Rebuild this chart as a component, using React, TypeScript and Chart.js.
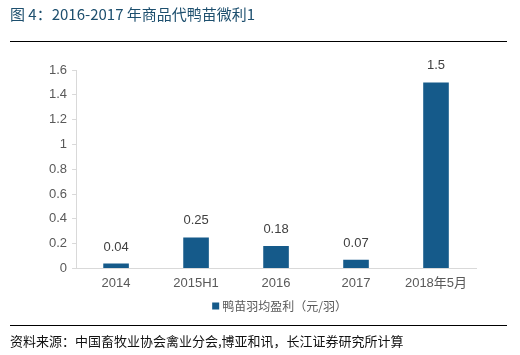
import React, { useEffect, useRef } from "react";
import { Chart, registerables } from "chart.js";

Chart.register(...registerables);

const categories = ["2014", "2015H1", "2016", "2017", "2018年5月"];
const profitValues = [0.04, 0.25, 0.18, 0.07, 1.5];
const valueLabels = ["0.04", "0.25", "0.18", "0.07", "1.5"];
const seriesName = "鸭苗羽均盈利（元/羽）";
const yTicks = [0, 0.2, 0.4, 0.6, 0.8, 1, 1.2, 1.4, 1.6];
const yTickLabels = ["0", "0.2", "0.4", "0.6", "0.8", "1", "1.2", "1.4", "1.6"];
const titleText = "图 4：2016-2017 年商品代鸭苗微利1";
const sourceText = "资料来源：中国畜牧业协会禽业分会,博亚和讯，长江证券研究所计算";

const BAR = "#155a8a";
const FONT = "'Liberation Sans', Arial, 'Noto Sans CJK SC', sans-serif";
const CJK = "'Noto Sans CJK SC', 'Liberation Sans', sans-serif";

const decorPlugin = {
  id: "decor",
  afterDraw(chart: any) {
    const ctx = chart.ctx;
    const area = chart.chartArea;
    ctx.save();
    // title
    ctx.fillStyle = "#1d4f6e";
    ctx.font = "15px " + CJK;
    ctx.textBaseline = "middle";
    ctx.textAlign = "left";
    ctx.fillText(titleText, 10, 14);
    // lines
    ctx.strokeStyle = "#000";
    ctx.lineWidth = 1;
    ctx.beginPath();
    ctx.moveTo(10, 41.5);
    ctx.lineTo(507, 41.5);
    ctx.moveTo(10, 325.5);
    ctx.lineTo(507, 325.5);
    ctx.stroke();
    // source
    ctx.fillStyle = "#111";
    ctx.font = "13px " + CJK;
    ctx.fillText(sourceText, 10, 341);
    // legend
    ctx.font = "12px " + CJK;
    const tw = ctx.measureText(seriesName).width;
    const total = 8 + 3 + tw;
    const lx = (area.left + area.right) / 2 + 4 - total / 2;
    const ly = 306;
    ctx.fillStyle = BAR;
    ctx.fillRect(lx, ly - 3.5, 7, 7);
    ctx.fillStyle = "#595959";
    ctx.fillText(seriesName, lx + 10, ly);
    // data labels
    const meta = chart.getDatasetMeta(0);
    ctx.fillStyle = "#404040";
    ctx.font = "13px " + FONT;
    ctx.textAlign = "center";
    ctx.textBaseline = "bottom";
    meta.data.forEach((bar: any, i: number) => {
      ctx.fillText(valueLabels[i], bar.x, bar.y - 10);
    });
    ctx.restore();
  },
};

export default function App() {
  const ref = useRef<HTMLCanvasElement>(null);
  useEffect(() => {
    if (!ref.current) return;
    const chart = new Chart(ref.current, {
      type: "bar",
      data: {
        labels: categories,
        datasets: [
          {
            label: seriesName,
            data: profitValues,
            backgroundColor: BAR,
            borderWidth: 0,
            barPercentage: 0.32,
            categoryPercentage: 1,
          },
        ],
      },
      plugins: [decorPlugin],
      options: {
        responsive: false,
        animation: false,
        layout: { padding: { left: 44, right: 44, top: 70, bottom: 57 } },
        plugins: {
          tooltip: { enabled: false },
          title: { display: false },
          legend: { display: false },
        },
        scales: {
          x: {
            grid: { display: false, drawTicks: false },
            border: { display: true, color: "#d9d9d9" },
            ticks: { color: "#595959", font: { size: 13, family: FONT }, padding: 7 },
          },
          y: {
            min: 0,
            max: 1.6,
            afterBuildTicks: (axis: any) => {
              axis.ticks = yTicks.map((v) => ({ value: v }));
            },
            grid: { drawOnChartArea: false, drawTicks: true, tickLength: 4, color: "#d9d9d9" },
            border: { display: true, color: "#d9d9d9" },
            ticks: {
              color: "#595959",
              font: { size: 13, family: FONT },
              padding: 5,
              callback: (_v: any, i: number) => yTickLabels[i],
            },
          },
        },
      },
    });
    return () => chart.destroy();
  }, []);
  return (
    <div style={{ position: "absolute", left: 0, top: 0, width: 520, height: 355, background: "#fff" }}>
      <canvas ref={ref} width={520} height={355} style={{ width: 520, height: 355 }} />
    </div>
  );
}
